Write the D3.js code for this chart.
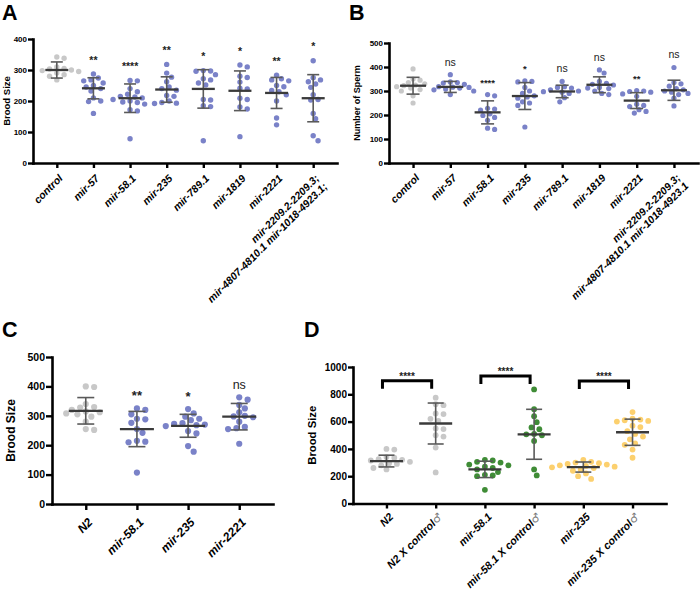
<!DOCTYPE html>
<html>
<head>
<meta charset="utf-8">
<script src="https://cdn.jsdelivr.net/npm/d3@7"></script>
<style>
  body { margin: 0; background: #fff; }
  svg { display: block; }
  text { font-family: "Liberation Sans", Arial, sans-serif; }
</style>
</head>
<body>
<svg width="700" height="593"></svg>
<script>
// ---- data ----
var catsA = ["control", "mir-57", "mir-58.1", "mir-235", "mir-789.1", "mir-1819", "mir-2221",
             "mir-2209.2-2209.3;\nmir-4807-4810.1 mir-1018-4923.1;"];
var broodA = [
  [342, 338, 310, 305, 303, 300, 298, 295, 290, 285, 280, 268],
  [287, 274, 268, 265, 258, 250, 245, 240, 232, 210, 200, 198, 160],
  [266, 265, 240, 230, 222, 215, 213, 210, 205, 200, 197, 195, 190, 172, 168, 78],
  [318, 290, 277, 262, 245, 240, 235, 218, 215, 200, 195, 193, 192],
  [298, 297, 296, 285, 272, 268, 258, 252, 205, 203, 185, 182, 72],
  [316, 310, 280, 276, 261, 241, 239, 209, 205, 181, 174, 85],
  [283, 272, 268, 265, 250, 246, 234, 230, 220, 200, 145, 123],
  [330, 275, 268, 262, 255, 244, 220, 205, 203, 160, 143, 88, 72]
];
var meanA = [300, 241, 209, 237, 239, 233, 226, 209];
var sdA = [26, 34, 46, 41, 62, 64, 50, 76];
var sigA = ["", "**", "****", "**", "*", "*", "**", "*"];

var catsB = ["control", "mir-57", "mir-58.1", "mir-235", "mir-789.1", "mir-1819", "mir-2221",
             "mir-2209.2-2209.3;\nmir-4807-4810.1 mir-1018-4923.1"];
var spermB = [
  [392, 350, 345, 335, 330, 325, 322, 318, 312, 306, 300, 280, 250],
  [368, 338, 335, 333, 328, 318, 316, 315, 312, 308, 305, 300, 285],
  [285, 280, 228, 225, 220, 205, 198, 190, 178, 145, 140],
  [342, 340, 338, 315, 300, 290, 280, 275, 270, 255, 250, 240, 150],
  [340, 318, 315, 312, 305, 300, 297, 295, 290, 272, 255],
  [388, 375, 340, 332, 328, 325, 315, 312, 310, 300, 290, 285],
  [302, 300, 298, 295, 288, 278, 245, 240, 235, 222, 215, 208],
  [398, 335, 330, 320, 310, 305, 300, 295, 290, 285, 270, 238]
];
var meanB = [322, 317, 211, 279, 298, 326, 260, 303];
var sdB = [35, 23, 48, 56, 26, 33, 33, 42];
var sigB = ["", "ns", "****", "*", "ns", "ns", "**", "ns"];

var catsC = ["N2", "mir-58.1", "mir-235", "mir-2221"];
var broodC = [
  [400, 398, 340, 330, 328, 320, 315, 312, 308, 305, 297, 280, 255, 252],
  [325, 320, 305, 290, 288, 276, 255, 242, 215, 212, 210, 107],
  [323, 308, 297, 290, 285, 275, 273, 270, 268, 265, 248, 240, 197, 178],
  [363, 355, 337, 325, 312, 300, 298, 295, 280, 262, 258, 255, 205]
];
var meanC = [317, 255, 266, 297];
var sdC = [45, 60, 39, 45];
var sigC = ["", "**", "*", "ns"];

var catsD = ["N2", "N2 X control♂", "mir-58.1", "mir-58.1 X control♂", "mir-235", "mir-235 X control♂"];
var broodD = [
  [400, 395, 340, 335, 325, 320, 315, 305, 295, 290, 280, 260, 250],
  [775, 728, 720, 660, 655, 620, 605, 550, 545, 500, 490, 410, 228],
  [320, 315, 305, 300, 285, 280, 270, 260, 250, 230, 210, 205, 200, 100],
  [836, 691, 640, 596, 557, 544, 510, 507, 500, 458, 250, 206],
  [320, 305, 300, 295, 290, 285, 280, 275, 270, 265, 260, 250, 240, 220, 200, 180],
  [670, 622, 615, 610, 605, 600, 570, 560, 530, 510, 490, 470, 440, 430, 395, 335]
];
var meanD = [311, 586, 250, 507, 267, 522];
var sdD = [43, 150, 60, 183, 37, 96];
var pairsD = [[0, 1], [2, 3], [4, 5]];
var pairLevelD = [900, 934, 897];
var pairSigD = ["****", "****", "****"];

var GRAY = "#c8c8c8", BLUE = "#7a82c8", GREEN = "#3f8c36", YELLOW = "#fcd06e";
var colorsA = [GRAY, BLUE, BLUE, BLUE, BLUE, BLUE, BLUE, BLUE];
var colorsC = [GRAY, BLUE, BLUE, BLUE];
var colorsD = [GRAY, GRAY, GREEN, GREEN, YELLOW, YELLOW];

var svg = d3.select("svg");

// simple beeswarm so dots at similar values sit side by side
function swarm(vals, cx, y, r) {
  var pts = [];
  vals.slice().sort(function(a, b) { return b - a; }).forEach(function(v) {
    var py = y(v), k = 0, px;
    while (true) {
      px = cx + (k % 2 ? 1 : -1) * Math.ceil(k / 2) * r * 0.9;
      var hit = pts.some(function(p) {
        var dx = p.x - px, dy = p.y - py;
        return dx * dx + dy * dy < (2 * r + 0.4) * (2 * r + 0.4);
      });
      if (!hit) break;
      k++;
    }
    pts.push({x: px, y: py});
  });
  return pts;
}

function panel(o) {
  var g = svg.append("g");
  var x = d3.scalePoint().domain(d3.range(o.cats.length)).range(o.xr).padding(o.pad);
  var y = d3.scaleLinear().domain([0, o.ymax]).range(o.yr);

  // axes
  var ya = g.append("g").attr("transform", "translate(" + o.xr[0] + ",0)")
    .call(d3.axisLeft(y).tickValues(o.yticks).tickFormat(d3.format("d"))
      .tickSize(o.tick).tickPadding(1).tickSizeOuter(0));
  var xa = g.append("g").attr("transform", "translate(0," + o.yr[0] + ")")
    .call(d3.axisBottom(x).tickSize(o.tick).tickSizeOuter(0).tickFormat(""));
  [ya, xa].forEach(function(a) {
    a.select(".domain").attr("stroke", "#000").attr("stroke-width", 2.6).attr("stroke-linecap", "square");
    a.selectAll(".tick line").attr("stroke", "#000").attr("stroke-width", 2.4);
  });
  ya.selectAll(".tick text").attr("font-size", o.ytSize).attr("font-weight", "bold").attr("fill", "#000")
    .attr("font-family", "'Liberation Sans', Arial, sans-serif");

  // x labels, rotated
  o.cats.forEach(function(c, i) {
    var t = g.append("text")
      .attr("transform", "translate(" + (x(i) + o.ldx) + "," + (o.yr[0] + o.ldy) + ") rotate(-45)")
      .attr("text-anchor", "end").attr("font-size", o.xtSize)
      .attr("font-weight", "bold").attr("font-style", "italic");
    c.split("\n").forEach(function(line, j) {
      var ts = t.append("tspan").attr("x", 0).attr("dy", j ? "1.1em" : 0);
      var parts = line.split("♂");
      ts.append("tspan").text(parts[0]);
      if (parts.length > 1) {
        ts.append("tspan").text("♂").attr("font-weight", "normal").attr("font-style", "normal")
          .attr("font-family", "'DejaVu Sans', sans-serif").attr("fill", "#777");
      }
    });
  });

  // y title
  g.append("text")
    .attr("transform", "translate(" + o.titleX + "," + ((o.yr[0] + o.yr[1]) / 2) + ") rotate(-90)")
    .attr("text-anchor", "middle").attr("font-size", o.titleSize).attr("font-weight", "bold")
    .text(o.title);

  // dots
  o.vals.forEach(function(vals, i) {
    g.append("g").selectAll("circle")
      .data(swarm(vals, x(i), y, o.r)).enter()
      .append("circle")
      .attr("cx", function(d) { return d.x; })
      .attr("cy", function(d) { return d.y; })
      .attr("r", o.r)
      .attr("fill", o.colors[i]);
  });

  // mean +/- SD
  o.mean.forEach(function(m, i) {
    var cx = x(i), lo = y(m - o.sd[i]), hi = y(m + o.sd[i]);
    g.append("line").attr("x1", cx).attr("x2", cx).attr("y1", lo).attr("y2", hi)
      .attr("stroke", "#5a5a5a").attr("stroke-width", 1.6);
    [lo, hi].forEach(function(yy) {
      g.append("line").attr("x1", cx - o.capW).attr("x2", cx + o.capW).attr("y1", yy).attr("y2", yy)
        .attr("stroke", "#5a5a5a").attr("stroke-width", 1.6);
    });
    g.append("line").attr("x1", cx - o.meanW).attr("x2", cx + o.meanW).attr("y1", y(m)).attr("y2", y(m))
      .attr("stroke", "#3a3a3a").attr("stroke-width", 2.3);
  });

  // significance marks above each group
  if (o.sig) {
    o.sig.forEach(function(s, i) {
      if (!s) return;
      var ns = s === "ns";
      g.append("text").attr("x", x(i)).attr("y", y(d3.max(o.vals[i])) - o.sigOff)
        .attr("text-anchor", "middle")
        .attr("font-size", ns ? o.nsSize : o.starSize)
        .attr("font-weight", ns ? "normal" : "bold")
        .attr("fill", "#222").text(s);
    });
  }

  // panel letter
  g.append("text").attr("x", o.letter[1]).attr("y", o.letter[2])
    .attr("font-size", 21.5).attr("font-weight", "bold").text(o.letter[0]);

  return {x: x, y: y, g: g};
}

panel({
  cats: catsA, vals: broodA, mean: meanA, sd: sdA, sig: sigA, colors: colorsA,
  xr: [33, 337], pad: 0.65, yr: [163, 39], ymax: 400, yticks: [0, 100, 200, 300, 400],
  tick: 5, ytSize: 8, xtSize: 10.5, ldx: 6.5, ldy: 16,
  title: "Brood Size", titleX: 10, titleSize: 9.5,
  r: 2.7, meanW: 11.5, capW: 6, sigOff: 10.5, starSize: 10.5, nsSize: 10,
  letter: ["A", 2, 20]
});

panel({
  cats: catsB, vals: spermB, mean: meanB, sd: sdB, sig: sigB, colors: colorsA,
  xr: [389, 698], pad: 0.645, yr: [163, 43], ymax: 500, yticks: [0, 100, 200, 300, 400, 500],
  tick: 5, ytSize: 8, xtSize: 10.5, ldx: 7, ldy: 15.5,
  title: "Number of Sperm", titleX: 360, titleSize: 9,
  r: 2.6, meanW: 13, capW: 6.5, sigOff: 9, starSize: 9.5, nsSize: 10.5,
  letter: ["B", 349, 20]
});

panel({
  cats: catsC, vals: broodC, mean: meanC, sd: sdC, sig: sigC, colors: colorsC,
  xr: [52, 273], pad: 0.66, yr: [504, 357], ymax: 500, yticks: [0, 100, 200, 300, 400, 500],
  tick: 6, ytSize: 10.5, xtSize: 12, ldx: 7.5, ldy: 19,
  title: "Brood Size", titleX: 15, titleSize: 12,
  r: 3.1, meanW: 17, capW: 8.5, sigOff: 8, starSize: 13, nsSize: 12.5,
  letter: ["C", 2, 337]
});

var pD = panel({
  cats: catsD, vals: broodD, mean: meanD, sd: sdD, sig: null, colors: colorsD,
  xr: [353, 666], pad: 0.68, yr: [503.5, 367], ymax: 1000, yticks: [0, 200, 400, 600, 800, 1000],
  tick: 5, ytSize: 10, xtSize: 10.8, ldx: 7.5, ldy: 14,
  title: "Brood Size", titleX: 316, titleSize: 11.3,
  r: 2.9, meanW: 16.5, capW: 8,
  letter: ["D", 304, 337]
});

// comparison brackets in D
pairsD.forEach(function(p, i) {
  var x1 = pD.x(p[0]) - 4, x2 = pD.x(p[1]) - 4, yy = pD.y(pairLevelD[i]);
  pD.g.append("path")
    .attr("d", "M" + x1 + "," + (yy + 8) + "V" + yy + "H" + x2 + "V" + (yy + 8))
    .attr("fill", "none").attr("stroke", "#000").attr("stroke-width", 3);
  pD.g.append("text").attr("x", (x1 + x2) / 2).attr("y", yy - 1)
    .attr("text-anchor", "middle").attr("font-size", 10).attr("font-weight", "bold")
    .attr("fill", "#222").text(pairSigD[i]);
});
</script>
</body>
</html>
